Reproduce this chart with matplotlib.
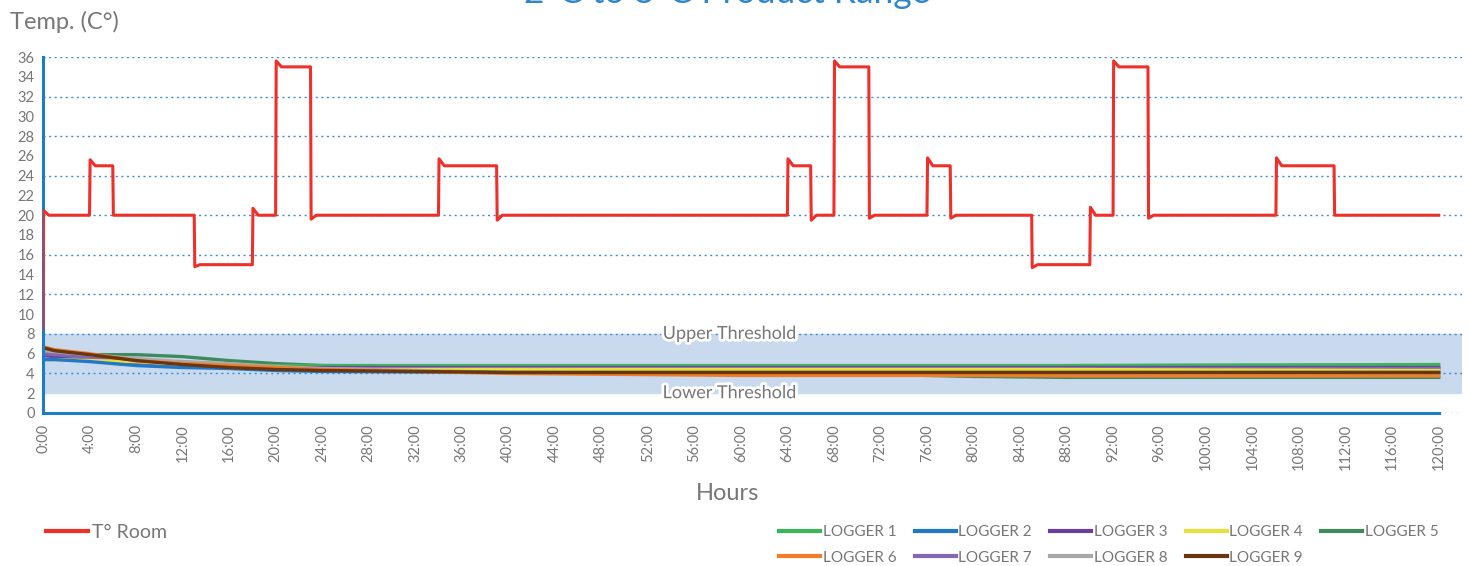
import matplotlib.pyplot as plt
import matplotlib.patheffects as pe

# room temperature profile: segment start hours, settled level, first value after the jump
seg_start = [0, 4, 6, 13, 18, 20, 23, 34, 39, 64, 66, 68, 71, 76, 78, 85, 90, 92, 95, 106, 111]
seg_level = [20, 25, 20, 15, 20, 35, 20, 25, 20, 25, 20, 35, 20, 25, 20, 15, 20, 35, 20, 25, 20]
seg_first = [20.5, 25.6, 20.0, 14.8, 20.7, 35.6, 19.6, 25.7, 19.5, 25.7, 19.5, 35.6, 19.7, 25.8, 19.7, 14.7, 20.8, 35.6, 19.7, 25.8, 20.0]
room_start_value = 8.6
room_end_hour = 120

# loggers
logger_hours = [0, 1, 4, 8, 12, 16, 20, 24, 32, 40, 60, 80, 88, 100, 120]
logger_values = {
    "LOGGER 1": [5.9, 5.8, 5.6, 5.2, 4.9, 4.8, 4.8, 4.8, 4.8, 4.8, 4.8, 4.8, 4.8, 4.85, 4.9],
    "LOGGER 2": [5.4, 5.4, 5.2, 4.8, 4.6, 4.5, 4.3, 4.2, 4.15, 4.1, 4.1, 4.1, 4.1, 4.1, 4.1],
    "LOGGER 3": [5.8, 5.7, 5.5, 5.0, 4.8, 4.7, 4.6, 4.6, 4.6, 4.6, 4.6, 4.6, 4.6, 4.6, 4.6],
    "LOGGER 4": [5.4, 5.4, 5.3, 5.2, 4.9, 4.7, 4.5, 4.4, 4.4, 4.4, 4.4, 4.4, 4.4, 4.35, 4.3],
    "LOGGER 5": [6.2, 6.1, 5.9, 5.9, 5.7, 5.3, 5.0, 4.8, 4.7, 4.6, 4.2, 3.7, 3.6, 3.6, 3.6],
    "LOGGER 6": [6.7, 6.4, 6.0, 5.3, 5.0, 4.8, 4.6, 4.4, 4.2, 4.0, 3.8, 3.8, 3.75, 3.75, 3.75],
    "LOGGER 7": [6.0, 5.9, 5.6, 5.1, 4.8, 4.6, 4.5, 4.5, 4.5, 4.5, 4.5, 4.5, 4.5, 4.5, 4.5],
    "LOGGER 8": [6.3, 6.2, 5.9, 5.5, 5.2, 5.0, 4.7, 4.5, 4.3, 4.1, 4.0, 3.95, 3.95, 3.95, 3.95],
    "LOGGER 9": [6.6, 6.3, 5.9, 5.3, 4.9, 4.6, 4.4, 4.3, 4.2, 4.1, 4.1, 4.1, 4.1, 4.1, 4.1],
}
logger_colors = ["#3cb55a", "#1f78c8", "#6a3fa0", "#e8e03a", "#3f8a5c",
                 "#f07d28", "#8466b4", "#a8a8a8", "#6a3510"]
draw_order = ["LOGGER 5", "LOGGER 1", "LOGGER 3", "LOGGER 7", "LOGGER 4",
              "LOGGER 8", "LOGGER 2", "LOGGER 6", "LOGGER 9"]

lower_threshold = 2
upper_threshold = 8
x_ticks = list(range(0, 121, 4))
x_labels = [f"{h}:00" for h in x_ticks]
y_ticks = list(range(0, 37, 2))

plt.rcParams["font.family"] = ["Lato", "DejaVu Sans"]
grey = "#777777"
blue = "#1c7cc4"

fig = plt.figure(figsize=(14.68, 5.66), dpi=100)
ax = fig.add_axes([43 / 1468, 153 / 566, 1419 / 1468, 356 / 566])

# build room series from the segments
room_x = [0]
room_y = [room_start_value]
ends = seg_start[1:] + [room_end_hour]
for start, end, level, first in zip(seg_start, ends, seg_level, seg_first):
    room_x += [start + 0.05, start + 0.5, end]
    room_y += [first, level, level]

ax.axhspan(lower_threshold, upper_threshold, color="#c9d9ee", zorder=0)

names = list(logger_values)
for name in draw_order:
    i = names.index(name)
    ax.plot(logger_hours, logger_values[name], color=logger_colors[i], lw=2.4, zorder=2)

ax.plot(room_x, room_y, color="#ee2f2a", lw=2.2, zorder=3)

for txt, yv in [("Upper Threshold", upper_threshold), ("Lower Threshold", lower_threshold)]:
    ax.text(59, yv, txt, ha="center", va="center", fontsize=13, color=grey, zorder=4,
            path_effects=[pe.withStroke(linewidth=4, foreground="white")])

ax.set_xlim(0, 122)
ax.set_ylim(0, 36)
ax.set_yticks(y_ticks)
ax.set_xticks(x_ticks)
ax.set_xticklabels(x_labels, rotation=90)
ax.tick_params(length=0, labelsize=10.5, labelcolor=grey, pad=8)
ax.tick_params(axis="y", pad=6)

for yv in range(4, 37, 4):
    ax.axhline(yv, color="#3d8fd0", lw=1, ls=(0, (1.5, 2.5)), zorder=1)
ax.axhline(0, xmin=120 / 122, xmax=1, color="#3d8fd0", lw=1, ls=(0, (1.5, 2.5)))
ax.axhline(0, xmin=0, xmax=120 / 122, color=blue, lw=2.2, zorder=5, clip_on=False)

for side in ["top", "right", "bottom"]:
    ax.spines[side].set_visible(False)
ax.spines["left"].set_color(blue)
ax.spines["left"].set_linewidth(2.2)

fig.text(10 / 1468, 1 - 22 / 566, "Temp. (C°)", fontsize=17, color=grey, va="center")
fig.text(728 / 1468, 1 - 494 / 566, "Hours", fontsize=17, color=grey, ha="center", va="center")
fig.text(727 / 1468, 1 - 3 / 566, "2°C to 8°C Product Range", fontsize=25.5, color="#2f86cc",
         ha="center", va="baseline")

room_handle = plt.Line2D([], [], color="#ee2f2a", lw=3)
fig.legend([room_handle], ["T° Room"], loc="center left",
           bbox_to_anchor=(28 / 1468, 1 - 532 / 566), frameon=False,
           fontsize=14, labelcolor=grey, handlelength=2.2, handletextpad=0.2)

# legend fills column by column, so interleave to get rows 1-5 and 6-9
leg_order = [0, 5, 1, 6, 2, 7, 3, 8, 4]
handles = [plt.Line2D([], [], color=logger_colors[i], lw=3) for i in leg_order]
labels = [names[i] for i in leg_order]
fig.legend(handles, labels, loc="center right", ncol=5,
           bbox_to_anchor=(1452 / 1468, 1 - 545 / 566), frameon=False,
           fontsize=11, labelcolor=grey, handlelength=2.7, handletextpad=0.15,
           columnspacing=1.2, labelspacing=0.75)

fig.savefig("out.png", dpi=100)
